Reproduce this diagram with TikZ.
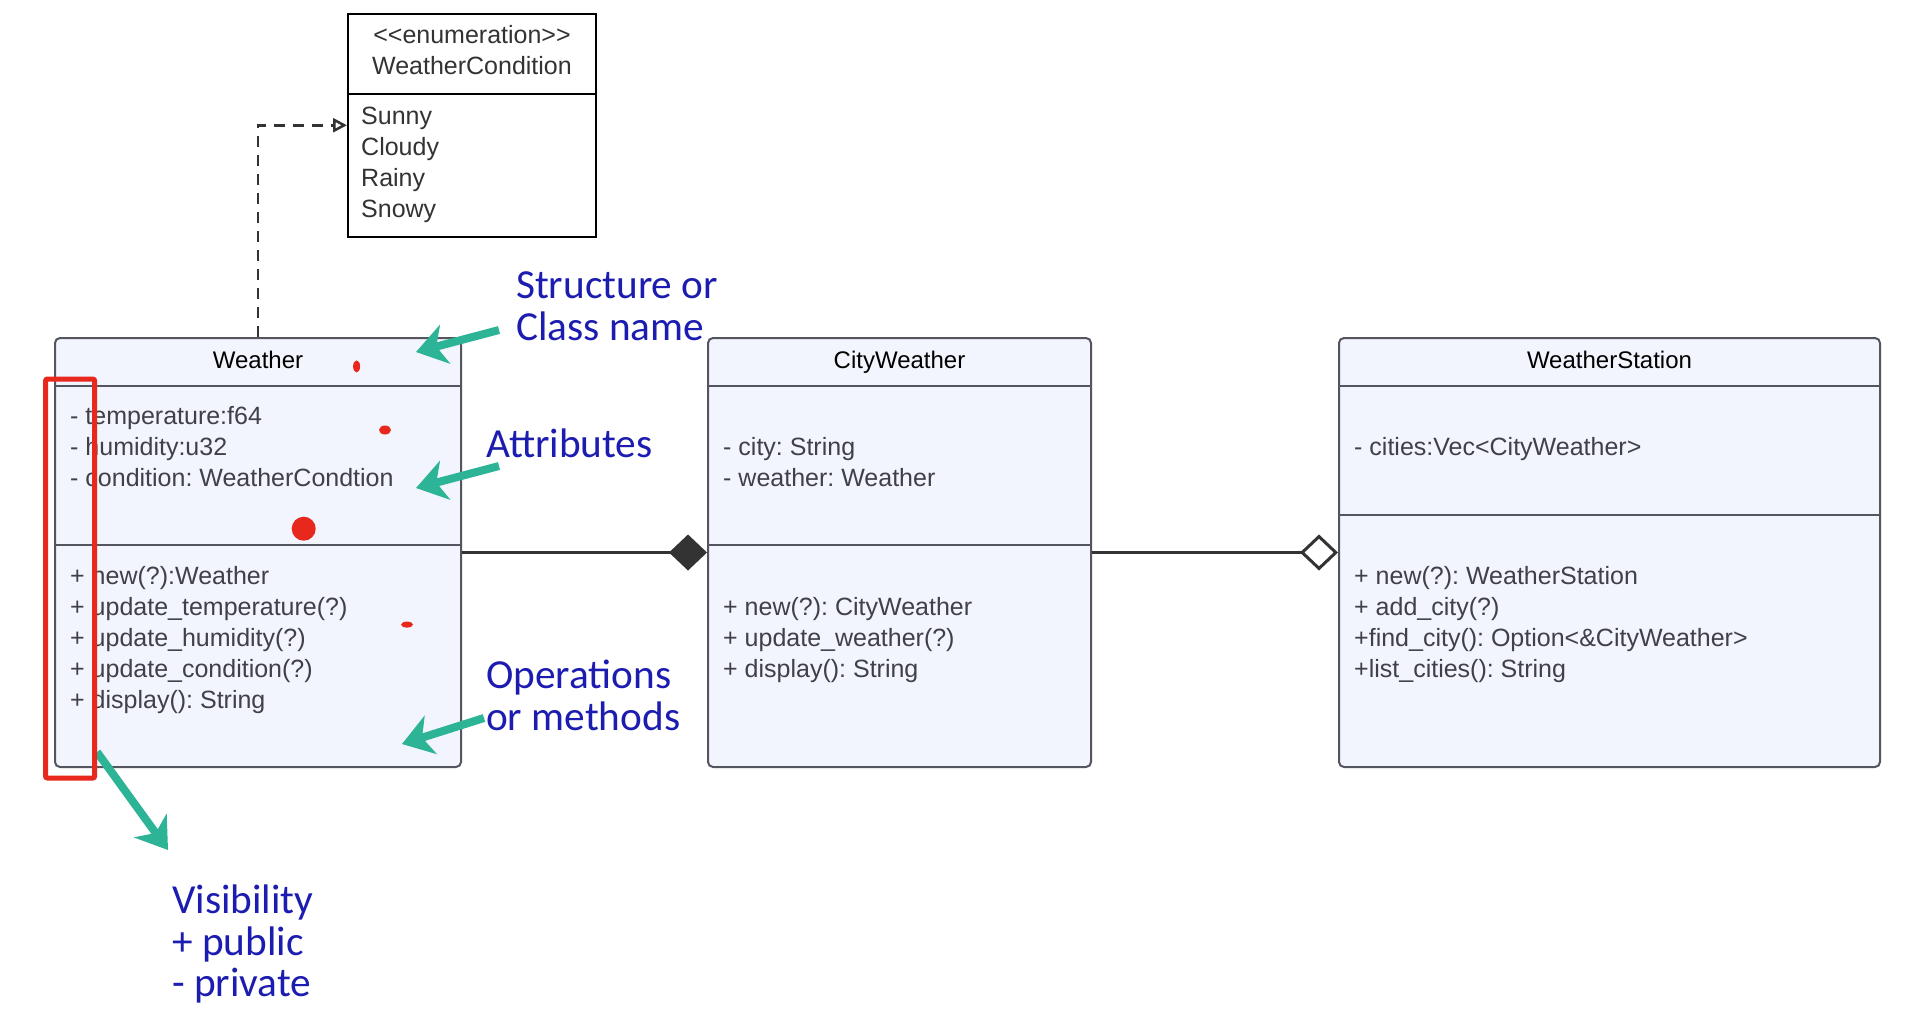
\documentclass[tikz,border=0pt]{standalone}
\usepackage{fontspec}
\newfontfamily\umlfont{Liberation Sans}
\newfontfamily\notefont{Carlito}
\usetikzlibrary{arrows.meta}
\frenchspacing

\definecolor{boxfill}{HTML}{F2F4FE}
\definecolor{boxline}{HTML}{55555F}
\definecolor{membertext}{HTML}{404046}
\definecolor{noteblue}{HTML}{1C1CB0}
\definecolor{noteteal}{HTML}{2DB395}
\definecolor{markred}{HTML}{E8281C}
\definecolor{linkgray}{HTML}{333333}

\tikzset{
  classbox/.style={draw=boxline, fill=boxfill, line width=2pt, rounded corners=5pt, inner sep=0pt},
  enumbox/.style={draw=black, fill=white, line width=2pt, inner sep=0pt},
  divider/.style={draw=boxline, line width=2pt},
  classtitle/.style={anchor=base, inner sep=0pt, text=black, font=\umlfont\fontsize{24}{31}\selectfont},
  members/.style={anchor=north west, align=left, inner sep=0pt, text=membertext, font=\umlfont\fontsize{25}{31}\selectfont},
  enumtext/.style={inner sep=0pt, text=linkgray, font=\umlfont\fontsize{25}{31}\selectfont},
  note/.style={anchor=north west, align=left, inner sep=0pt, text=noteblue, font=\notefont\fontsize{41.3}{41.5}\selectfont},
  pointer/.style={draw=noteteal, line width=8pt, -{Stealth[length=30pt,width=40pt,inset=9pt]}},
  link/.style={draw=linkgray, line width=3pt},
}

\begin{document}
\begin{tikzpicture}[x=1pt, y=-1pt]
\useasboundingbox (0,0) rectangle (1928,1012);
\fill[white] (0,0) rectangle (1928,1012);

% enumeration
\node[enumbox, minimum width=248pt, minimum height=223.5pt] (enum) at (472,125.25) {};
\draw[line width=2pt] (348,93.5) -- (596,93.5);
\node[enumtext, anchor=north, align=center] (enumtitle) at (472,25) {<<enumeration>>\\WeatherCondition};
\node[enumtext, anchor=north west, align=left] (enumitems) at (361,107) {Sunny\\Cloudy\\Rainy\\Snowy};

% classes
\node[classbox, minimum width=406pt, minimum height=429pt] (weather) at (258,552.5) {};
\draw[divider] (55,386) -- (461,386);
\draw[divider] (55,545) -- (461,545);
\node[classtitle] (weathertitle) at (258,368) {Weather};
\node[members] (weatherattr) at (70,406.5) {- temperature:f64\\- humidity:u32\\- condition: WeatherCondtion};
\node[members] (weatherops) at (70,566.5) {+ new(?):Weather\\+ update\_temperature(?)\\+ update\_humidity(?)\\+ update\_condition(?)\\+ display(): String};

\node[classbox, minimum width=383pt, minimum height=429pt] (city) at (899.5,552.5) {};
\draw[divider] (708,386) -- (1091,386);
\draw[divider] (708,545) -- (1091,545);
\node[classtitle] (citytitle) at (899.5,368) {CityWeather};
\node[members] (cityattr) at (723,437) {- city: String\\- weather: Weather};
\node[members] (cityops) at (723,597) {+ new(?): CityWeather\\+ update\_weather(?)\\+ display(): String};

\node[classbox, minimum width=541pt, minimum height=429pt] (station) at (1609.5,552.5) {};
\draw[divider] (1339,386) -- (1880,386);
\draw[divider] (1339,515) -- (1880,515);
\node[classtitle] (stationtitle) at (1609.5,368) {WeatherStation};
\node[members] (stationattr) at (1354,437) {- cities:Vec<CityWeather>};
\node[members] (stationops) at (1354,566.5) {+ new(?): WeatherStation\\+ add\_city(?)\\+find\_city(): Option<\&CityWeather>\\+list\_cities(): String};

% relations
\draw[link, line width=2.5pt, dash pattern=on 11pt off 8pt, -{Triangle[open, length=14pt, width=14pt]}] (weather.north) |- (enum.west);
\draw[link, -{Diamond[length=38pt, width=36pt]}] (weather.east) -- (city.west);
\draw[link, -{Diamond[length=38pt, width=36pt, fill=white]}] (city.east) -- (station.west);

% annotations
\node[note] (structnote) at (516,271.5) {Structure or\\Class name};
\node[note] (attrnote) at (486,429) {Attributes};
\node[note] (opsnote) at (486,660) {Operations\\or methods};
\node[note] (visnote) at (172,885) {Visibility\\+ public\\- private};

\coordinate (structtail) at (499,330);
\coordinate (structtip) at (416,352);
\coordinate (attrtail) at (499,466);
\coordinate (attrtip) at (416,488);
\coordinate (opstail) at (484,718);
\coordinate (opstip) at (402,744);
\coordinate (vistail) at (97,752);
\coordinate (vistip) at (168,850);
\draw[pointer] (structtail) -- (structtip);
\draw[pointer] (attrtail) -- (attrtip);
\draw[pointer] (opstail) -- (opstip);
\draw[pointer] (vistail) -- (vistip);

% red marks
\draw[markred, line width=5pt, rounded corners=2pt] (45.5,379) rectangle (94.7,778);
\fill[markred] (356.6,366.4) ellipse [x radius=3.5pt, y radius=6pt];
\fill[markred] (385,430) ellipse [x radius=6pt, y radius=4.5pt];
\fill[markred] (303.7,528.7) circle [radius=12pt];
\fill[markred] (407,624.6) ellipse [x radius=6pt, y radius=3pt];
\end{tikzpicture}
\end{document}
